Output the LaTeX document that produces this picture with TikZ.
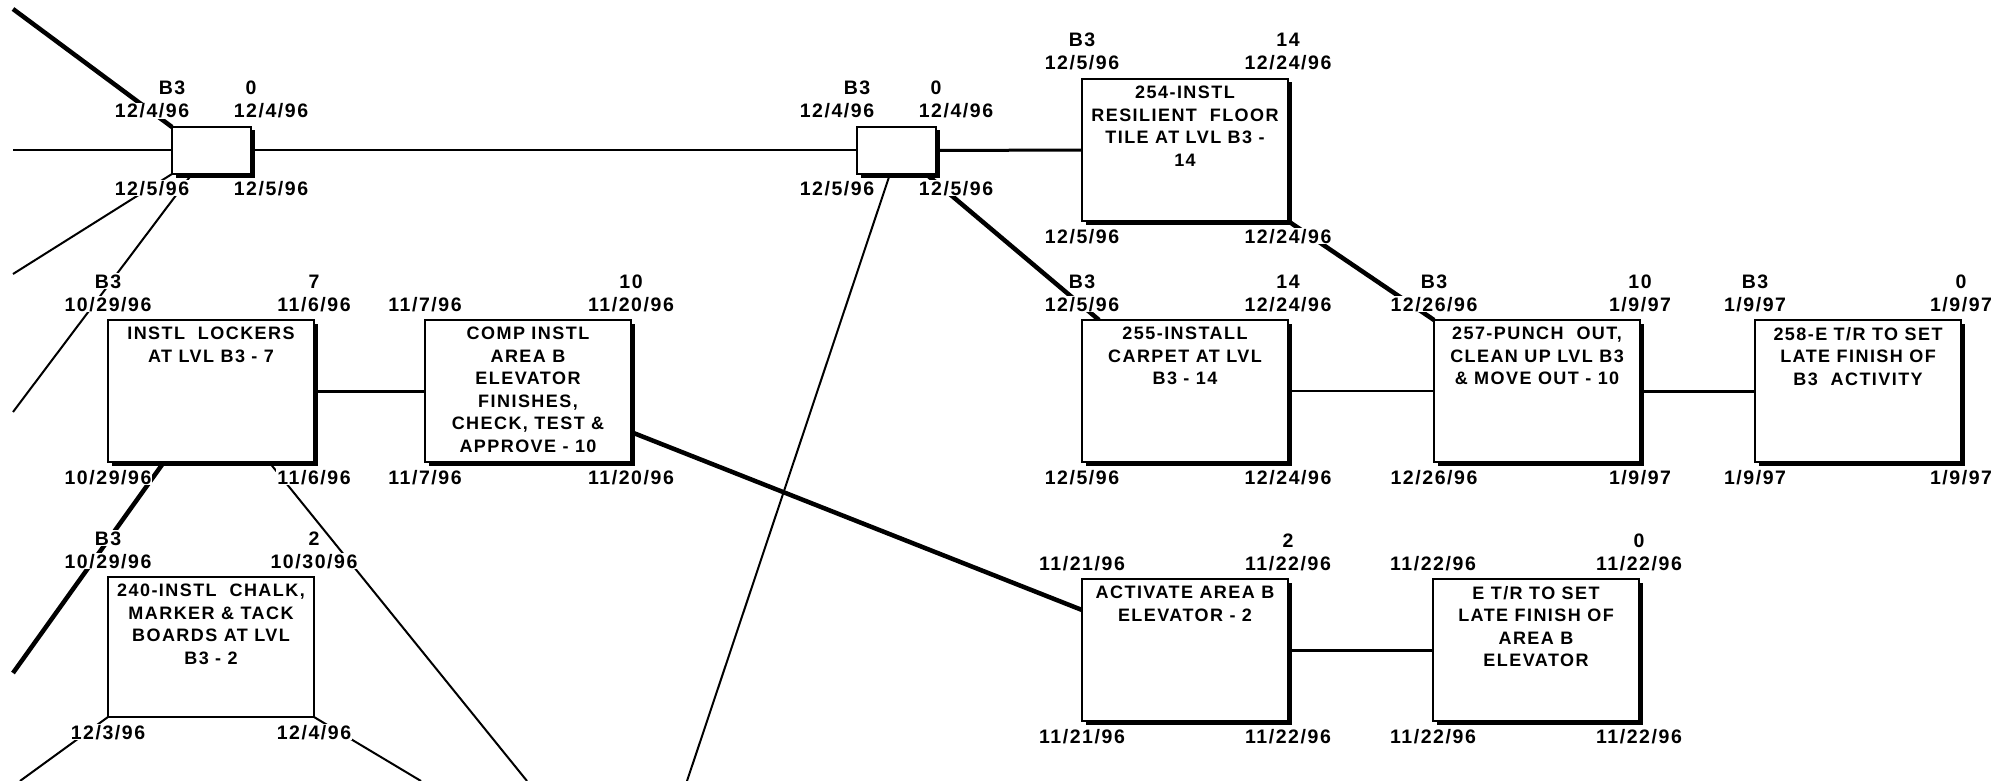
\documentclass[tikz,border=0pt]{standalone}
\usepackage{fontspec}
\newfontfamily\pertfont[LetterSpace=8]{Liberation Sans}
\usetikzlibrary{positioning,shadows}
\pgfdeclarelayer{background}
\pgfsetlayers{background,main}
\tikzset{
  actbox/.style={draw,fill=white,line width=1.6pt,outer sep=0pt,inner sep=0pt,
    minimum width=206pt,minimum height=142pt,anchor=north west,
    drop shadow={shadow xshift=3.5pt,shadow yshift=-3.5pt,fill=black,opacity=1}},
  plainbox/.style={draw,fill=white,line width=1.4pt,outer sep=0pt,inner sep=0pt,
    minimum width=206pt,minimum height=140pt,anchor=north west},
  milebox/.style={actbox,minimum width=79pt,minimum height=47pt},
  boxtext/.style={anchor=north,align=center,inner sep=0pt,yshift=-7pt,
    font=\pertfont\bfseries\fontsize{18}{22.5}\selectfont},
  datelab/.style={fill=white,inner sep=1pt,anchor=base,
    font=\pertfont\bfseries\fontsize{19.5}{22}\selectfont},
  txt/.style={label={[boxtext]north:#1}},
  ctl/.style={label={[datelab,yshift=32pt]north west:#1}},
  ctr/.style={label={[datelab,yshift=32pt]north east:#1}},
  dtl/.style={label={[datelab,yshift=9pt]north west:#1}},
  dtr/.style={label={[datelab,yshift=9pt]north east:#1}},
  dbl/.style={label={[datelab,yshift=-22pt]south west:#1}},
  dbr/.style={label={[datelab,yshift=-22pt]south east:#1}},
  mtl/.style={label={[datelab,xshift=-20pt,yshift=9pt]north west:#1}},
  mtr/.style={label={[datelab,xshift=20pt,yshift=9pt]north east:#1}},
  mbl/.style={label={[datelab,xshift=-20pt,yshift=-21pt]south west:#1}},
  mbr/.style={label={[datelab,xshift=20pt,yshift=-21pt]south east:#1}},
  link/.style={line width=2pt},
  midlink/.style={line width=3pt},
  critlink/.style={line width=4.5pt}
}

\begin{document}
\begin{tikzpicture}[x=1pt,y=-1pt]
  \useasboundingbox (0,0) rectangle (1997,781);
  % milestones
  \node[milebox,ctl=B3,ctr=0,mtl=12/4/96,mtr=12/4/96,mbl=12/5/96,mbr=12/5/96] (msA) at (172,127) {};
  \node[milebox,ctl=B3,ctr=0,mtl=12/4/96,mtr=12/4/96,mbl=12/5/96,mbr=12/5/96] (msB) at (857,127) {};
  % left group
  \node[actbox,ctl=B3,ctr=7,dtl=10/29/96,dtr=11/6/96,dbl=10/29/96,dbr=11/6/96,
    txt={INSTL~ LOCKERS\\AT LVL B3 - 7}] (lockers) at (108,320) {};
  \node[actbox,right=111pt of lockers,ctr=10,dtl=11/7/96,dtr=11/20/96,dbl=11/7/96,dbr=11/20/96,
    txt={COMP INSTL\\AREA B\\ELEVATOR\\FINISHES,\\CHECK, TEST \&\\APPROVE - 10}] (comp) {};
  \node[plainbox,below=115pt of lockers,ctl=B3,ctr=2,dtl=10/29/96,dtr=10/30/96,dbl=12/3/96,dbr=12/4/96,
    txt={240-INSTL~ CHALK,\\MARKER \& TACK\\BOARDS AT LVL\\B3 - 2}] (chalk) {};
  % right group
  \node[actbox,ctl=B3,ctr=14,dtl=12/5/96,dtr=12/24/96,dbl=12/5/96,dbr=12/24/96,
    txt={254-INSTL\\RESILIENT~ FLOOR\\TILE AT LVL B3 -\\14}] (n254) at (1082,79) {};
  \node[actbox,below=99pt of n254,ctl=B3,ctr=14,dtl=12/5/96,dtr=12/24/96,dbl=12/5/96,dbr=12/24/96,
    txt={255-INSTALL\\CARPET AT LVL\\B3 - 14}] (n255) {};
  \node[actbox,right=146pt of n255,ctl=B3,ctr=10,dtl=12/26/96,dtr=1/9/97,dbl=12/26/96,dbr=1/9/97,
    txt={257-PUNCH~ OUT,\\CLEAN UP LVL B3\\\& MOVE OUT - 10}] (n257) {};
  \node[actbox,right=115pt of n257,ctl=B3,ctr=0,dtl=1/9/97,dtr=1/9/97,dbl=1/9/97,dbr=1/9/97,
    txt={258-E T/R TO SET\\LATE FINISH OF\\B3~ ACTIVITY}] (n258) {};
  \node[actbox,below=117pt of n255,ctr=2,dtl=11/21/96,dtr=11/22/96,dbl=11/21/96,dbr=11/22/96,
    txt={ACTIVATE AREA B\\ELEVATOR - 2}] (act) {};
  \node[actbox,right=145pt of act,ctr=0,dtl=11/22/96,dtr=11/22/96,dbl=11/22/96,dbr=11/22/96,
    txt={E T/R TO SET\\LATE FINISH OF\\AREA B\\ELEVATOR}] (et) {};
  % loose ends at the sheet border
  \coordinate (w1) at (13,9);
  \coordinate (w2) at (13,150.5);
  \coordinate (w3) at (13,274);
  \coordinate (w4) at (13,412);
  \coordinate (w5) at (13,673);
  \coordinate (s1) at (527,781);
  \coordinate (s2) at (20,781);
  \coordinate (s3) at (421,781);
  \coordinate (s4) at (687,781);
  \begin{pgfonlayer}{background}
    \draw[critlink] (w1) -- (msA.north west);
    \draw[link] (w2) -- (msA.west);
    \draw[link] (msA.east) -- (msB.west);
    \draw[midlink] (msB.east) -- (n254.west);
    \draw[link] (msA.south west) -- (w3);
    \draw[link] ([xshift=20pt]msA.south west) -- (w4);
    \draw[midlink] (lockers.east) -- (comp.west);
    \draw[critlink] ([xshift=56pt]lockers.south west) -- (w5);
    \draw[link] ([xshift=-45pt]lockers.south east) -- (s1);
    \draw[link] (chalk.south west) -- (s2);
    \draw[link] (chalk.south east) -- (s3);
    \draw[critlink] ([yshift=30pt]comp.south east) -- ([yshift=-31pt]act.north west);
    \draw[link] ([xshift=33pt]msB.south west) -- (s4);
    \draw[critlink] ([xshift=-10pt]msB.south east) -- ([xshift=17pt]n255.north west);
    \draw[critlink] (n254.south east) -- (n257.north west);
    \draw[link] (n255.east) -- (n257.west);
    \draw[midlink] (n257.east) -- (n258.west);
    \draw[midlink] (act.east) -- (et.west);
  \end{pgfonlayer}
\end{tikzpicture}
\end{document}
